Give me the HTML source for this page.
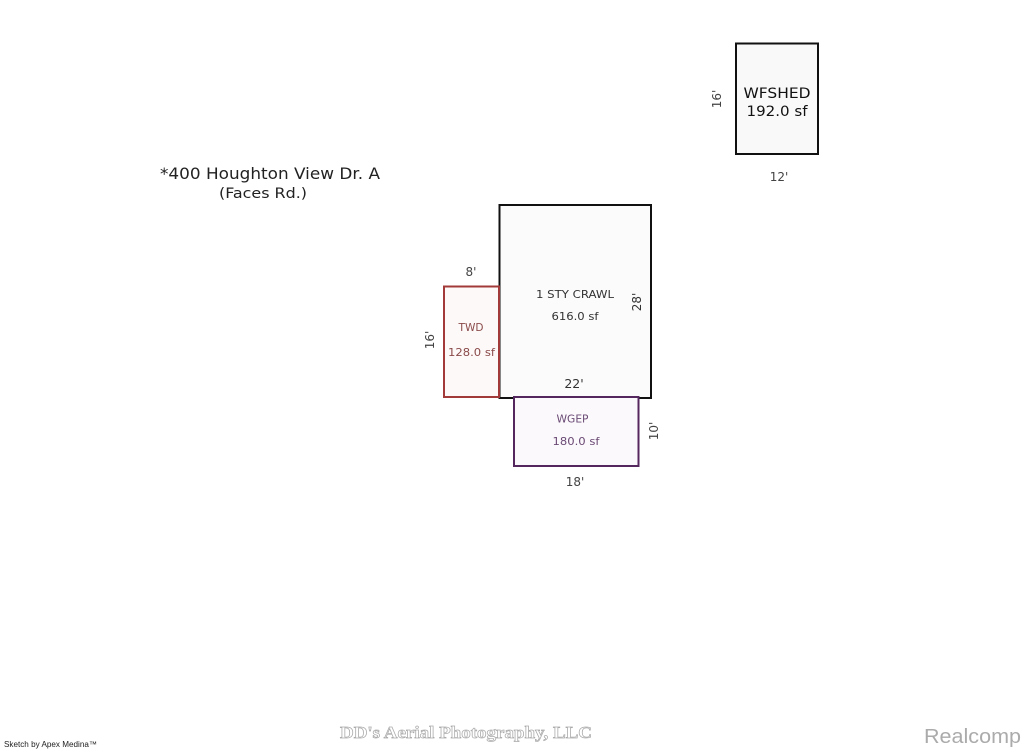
<!DOCTYPE html>
<html>
<head>
<meta charset="utf-8">
<style>
html,body{margin:0;padding:0;background:#fff;width:1024px;height:750px;overflow:hidden}
svg{display:block}
text{font-family:"DejaVu Sans","Liberation Sans",sans-serif}
</style>
</head>
<body>
<svg width="1024" height="750" viewBox="0 0 1024 750" xmlns="http://www.w3.org/2000/svg">
<rect width="1024" height="750" fill="#fff"/>

<rect x="736" y="43.5" width="82" height="110.5" fill="#f9f9f9" stroke="#111" stroke-width="2"/>
<text x="777" y="98" font-size="14" fill="#111" text-anchor="middle" textLength="67" lengthAdjust="spacingAndGlyphs">WFSHED</text>
<text x="777" y="116" font-size="14" fill="#111" text-anchor="middle" textLength="61" lengthAdjust="spacingAndGlyphs">192.0 sf</text>
<text transform="translate(721,99) rotate(-90)" font-size="12" fill="#444" text-anchor="middle">16'</text>
<text x="779" y="181" font-size="12" fill="#444" text-anchor="middle">12'</text>

<text x="270" y="179" font-size="16" fill="#222" text-anchor="middle" textLength="220" lengthAdjust="spacingAndGlyphs">*400 Houghton View Dr. A</text>
<text x="263" y="198" font-size="14.5" fill="#222" text-anchor="middle" textLength="88" lengthAdjust="spacingAndGlyphs">(Faces Rd.)</text>

<rect x="499.5" y="205" width="151.5" height="193" fill="#fbfbfb" stroke="#111" stroke-width="2"/>
<text x="575" y="298" font-size="10.5" fill="#333" text-anchor="middle" textLength="78" lengthAdjust="spacingAndGlyphs">1 STY CRAWL</text>
<text x="575" y="320" font-size="10.5" fill="#333" text-anchor="middle" textLength="47" lengthAdjust="spacingAndGlyphs">616.0 sf</text>
<text transform="translate(641,302) rotate(-90)" font-size="12" fill="#333" text-anchor="middle">28'</text>
<text x="574" y="388" font-size="12.5" fill="#333" text-anchor="middle">22'</text>

<rect x="444" y="286.5" width="55" height="110.5" fill="#fdf9f8" stroke="#a33a3a" stroke-width="2"/>
<text x="471" y="331" font-size="10.5" fill="#8a4a4a" text-anchor="middle" textLength="25" lengthAdjust="spacingAndGlyphs">TWD</text>
<text x="471.5" y="356" font-size="10.5" fill="#8a4a4a" text-anchor="middle" textLength="47" lengthAdjust="spacingAndGlyphs">128.0 sf</text>
<text x="471" y="276" font-size="12" fill="#444" text-anchor="middle">8'</text>
<text transform="translate(434,340) rotate(-90)" font-size="12" fill="#444" text-anchor="middle">16'</text>

<rect x="514" y="397" width="124.5" height="69" fill="#fcf9fd" stroke="#54285f" stroke-width="2"/>
<text x="572.5" y="422.5" font-size="10.5" fill="#6a4a74" text-anchor="middle" textLength="32" lengthAdjust="spacingAndGlyphs">WGEP</text>
<text x="576" y="445" font-size="10.5" fill="#6a4a74" text-anchor="middle" textLength="47" lengthAdjust="spacingAndGlyphs">180.0 sf</text>
<text transform="translate(658,431) rotate(-90)" font-size="12" fill="#444" text-anchor="middle">10'</text>
<text x="575" y="486" font-size="12" fill="#444" text-anchor="middle">18'</text>

<text x="4" y="747" font-size="8" fill="#222" textLength="93" lengthAdjust="spacingAndGlyphs" style="font-family:'Liberation Sans',sans-serif">Sketch by Apex Medina™</text>
<text x="466" y="738" font-size="17" font-weight="bold" fill="#fff" stroke="#aaa" stroke-width="0.7" text-anchor="middle" textLength="252" lengthAdjust="spacingAndGlyphs" style="font-family:'Liberation Serif',serif">DD's Aerial Photography, LLC</text>
<text x="924" y="743" font-size="20" fill="#ababab" textLength="97" lengthAdjust="spacingAndGlyphs" style="font-family:'Liberation Sans',sans-serif">Realcomp</text>
</svg>
</body>
</html>
